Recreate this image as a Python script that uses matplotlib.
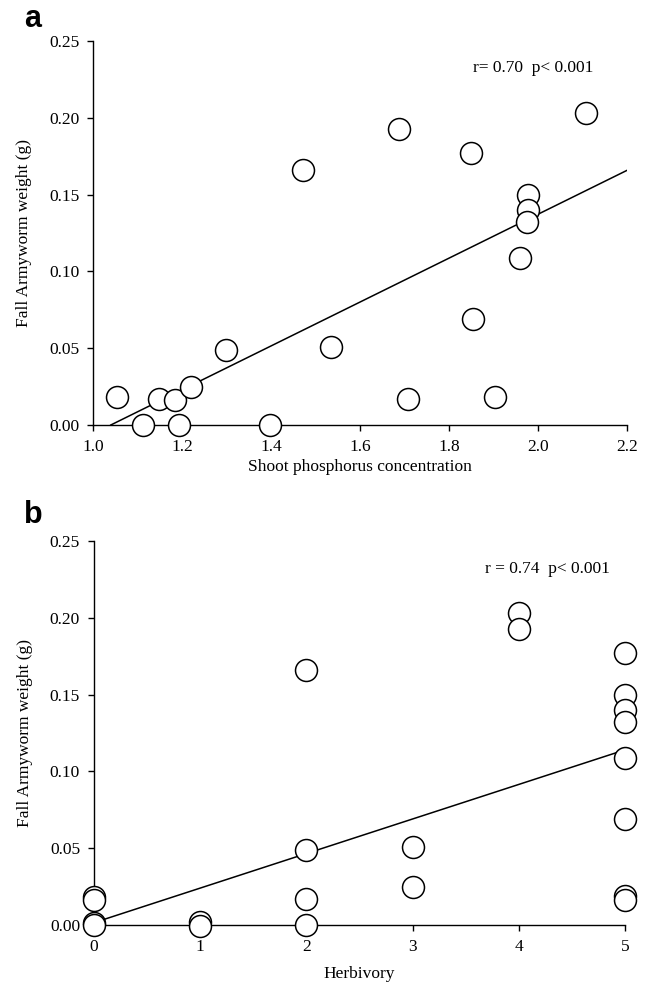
import matplotlib
matplotlib.use("Agg")
import matplotlib.pyplot as plt

plt.rcParams['font.family'] = ['Liberation Serif', 'DejaVu Serif']

# === panel a data: shoot P vs weight ===
phos = [1.055, 1.113, 1.149, 1.184, 1.194, 1.220, 1.298, 1.397, 1.472, 1.534,
        1.687, 1.708, 1.849, 1.854, 1.903, 1.960, 1.978, 1.978, 1.976, 2.109]
weight_a = [0.018, 0.000, 0.017, 0.016, 0.000, 0.025, 0.049, 0.000, 0.166, 0.051,
            0.193, 0.017, 0.177, 0.069, 0.018, 0.109, 0.150, 0.140, 0.132, 0.203]
fit_a_x = [1.040, 2.2]
fit_a_y = [0.0, 0.1658]

# === panel b data: herbivory vs weight ===
herb = [0, 0, 0, 0, 1, 1, 2, 2, 2, 2, 3, 3, 4, 4, 5, 5, 5, 5, 5, 5, 5, 5]
weight_b = [0.018, 0.016, 0.001, 0.000, 0.002, -0.001, 0.166, 0.049, 0.017, 0.000,
            0.051, 0.025, 0.203, 0.193, 0.177, 0.150, 0.140, 0.132, 0.109, 0.069,
            0.019, 0.016]
fit_b_x = [0, 5]
fit_b_y = [0.0015, 0.114]

fig = plt.figure(figsize=(6.5, 9.84), dpi=100)
ax_a = fig.add_axes([0.1431, 0.5681, 0.8215, 0.3902])
ax_b = fig.add_axes([0.1446, 0.0600, 0.8169, 0.3902])


def style(ax, xlim, xticks, xfmt):
    for s in ['top', 'right']:
        ax.spines[s].set_visible(False)
    for s in ['left', 'bottom']:
        ax.spines[s].set_linewidth(1.0)
    ax.set_xlim(*xlim)
    ax.set_ylim(0, 0.25)
    ax.set_xticks(xticks)
    ax.set_xticklabels([xfmt.format(v) for v in xticks])
    ax.set_yticks([0, 0.05, 0.10, 0.15, 0.20, 0.25])
    ax.set_yticklabels(['0.00', '0.05', '0.10', '0.15', '0.20', '0.25'])
    ax.tick_params(direction='out', length=4, width=1.0, labelsize=12.5)
    ax.tick_params(axis='y', pad=6)
    ax.tick_params(axis='x', pad=6)
    ax.set_ylabel('Fall Armyworm weight (g)', fontsize=12.5, labelpad=12)


# panel a
ax_a.plot(fit_a_x, fit_a_y, color='black', lw=1.1, zorder=2)
ax_a.scatter(phos, weight_a, s=250, facecolor='white', edgecolor='black',
             linewidth=1.1, zorder=3, clip_on=False)
style(ax_a, (1.0, 2.2), [1.0, 1.2, 1.4, 1.6, 1.8, 2.0, 2.2], '{:.1f}')
ax_a.set_xlabel('Shoot phosphorus concentration', fontsize=12.5, labelpad=3)
ax_a.text(1.989, 0.2324, 'r= 0.70  p< 0.001', fontsize=12.5, ha='center', va='center')

# panel b
ax_b.plot(fit_b_x, fit_b_y, color='black', lw=1.1, zorder=2)
ax_b.scatter(herb, weight_b, s=250, facecolor='white', edgecolor='black',
             linewidth=1.1, zorder=3, clip_on=False)
style(ax_b, (0, 5), [0, 1, 2, 3, 4, 5], '{:d}')
ax_b.set_xlabel('Herbivory', fontsize=12.5, labelpad=8)
ax_b.text(4.27, 0.2318, 'r = 0.74  p< 0.001', fontsize=12.5, ha='center', va='center')

# panel letters
fig.text(0.037, 0.9726, 'a', fontsize=22, fontweight='bold', family='Liberation Sans',
         ha='left', va='baseline')
fig.text(0.037, 0.4685, 'b', fontsize=22, fontweight='bold', family='Liberation Sans',
         ha='left', va='baseline')

fig.savefig('out.png', dpi=100, facecolor='white')
